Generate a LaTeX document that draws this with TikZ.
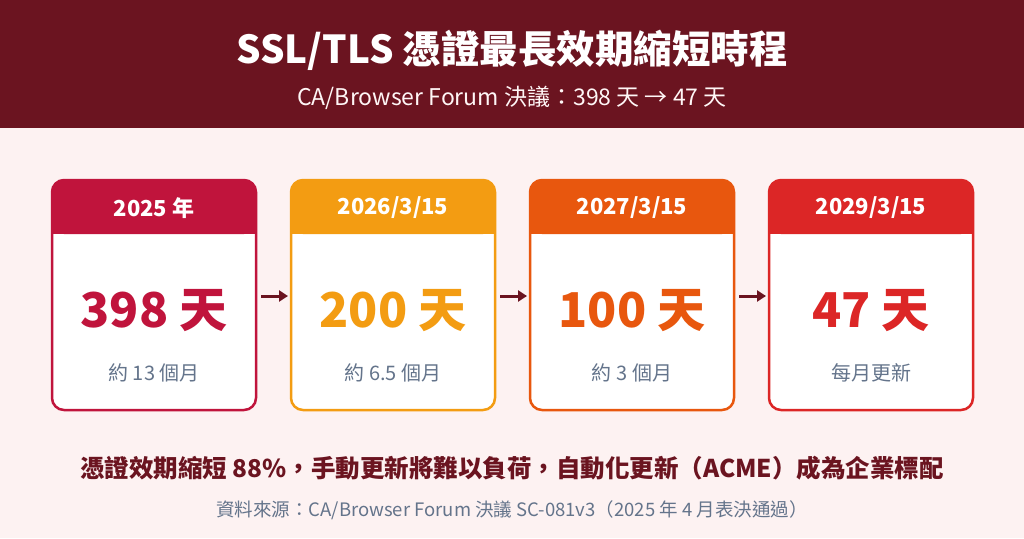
\documentclass[tikz,border=0pt]{standalone}
\usepackage{fontspec}
\setmainfont{Noto Sans CJK TC}
\usetikzlibrary{arrows.meta}
\definecolor{hdr}{HTML}{6B1420}
\definecolor{bg}{HTML}{FDF2F2}
\definecolor{cA}{HTML}{C0143C}
\definecolor{cB}{HTML}{F39C12}
\definecolor{cC}{HTML}{E8570E}
\definecolor{cD}{HTML}{DC2626}
\definecolor{gr}{HTML}{64748B}
\newcommand{\fs}[1]{\fontsize{#1}{#1}\selectfont}
\tikzset{
 card/.style={draw=#1,line width=2.5pt,rounded corners=12pt},
 big/.style={font=\fs{48}\bfseries,text=#1},
 sub/.style={font=\fs{20},text=gr},
 yr/.style={font=\fs{22}\bfseries,text=white},
 arr/.style={draw=hdr,line width=3pt,-{Triangle[length=9pt,width=11pt]}}
}
\newcommand{\card}[6]{%
 \fill[white,rounded corners=12pt] (#2,180) rectangle ++(204,230);
 \fill[#3,rounded corners=12pt] (#2,180) rectangle ++(204,54);
 \fill[#3] (#2,215) rectangle ++(204,19);
 \draw[card=#3] (#2,180) rectangle ++(204,230);
 \node[yr] (#1y) at (#2+102,208) {#4};
 \node[big=#3] (#1b) at (#2+102,311) {#5};
 \node[sub] (#1s) at (#2+102,373) {#6};
 \coordinate (#1l) at (#2,296);
 \coordinate (#1r) at (#2+204,296);
}
\begin{document}
\begin{tikzpicture}[x=1pt,y=-1pt]
\fill[bg] (0,0) rectangle (1024,538);
\fill[hdr] (0,0) rectangle (1024,128);
\node[font=\fs{38.5}\bfseries,text=white] (t) at (512,50) {SSL/TLS 憑證最長效期縮短時程};
\node[font=\fs{23},text=white!85!pink] (st) at (512,98) {CA/Browser Forum 決議：398 天 → 47 天};
\card{a}{52}{cA}{2025 年}{398 天}{約 13 個月}
\card{b}{291}{cB}{2026/3/15}{200 天}{約 6.5 個月}
\card{c}{530}{cC}{2027/3/15}{100 天}{約 3 個月}
\card{d}{769}{cD}{2029/3/15}{47 天}{每月更新}
\draw[arr] ([xshift=5pt]ar) -- ([xshift=-3pt]bl);
\draw[arr] ([xshift=5pt]br) -- ([xshift=-3pt]cl);
\draw[arr] ([xshift=5pt]cr) -- ([xshift=-3pt]dl);
\node[font=\fs{24.5}\bfseries,text=hdr] (m) at (512,468) {憑證效期縮短 88\%，手動更新將難以負荷，自動化更新（ACME）成為企業標配};
\node[font=\fs{18.5},text=gr] (s) at (512,510) {資料來源：CA/Browser Forum 決議 SC-081v3（2025 年 4 月表決通過）};
\end{tikzpicture}
\end{document}
